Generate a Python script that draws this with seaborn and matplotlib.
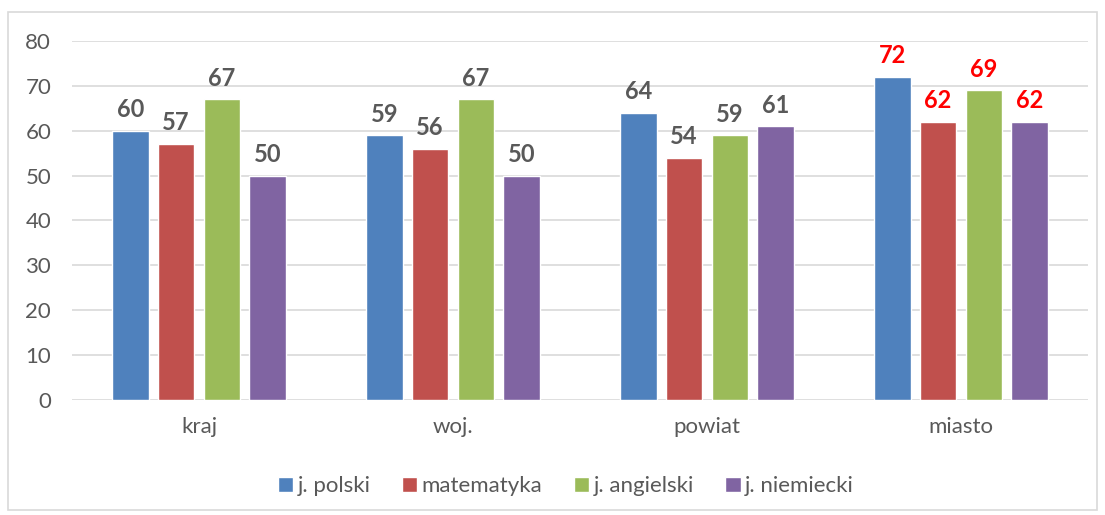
import pandas as pd
import matplotlib
matplotlib.use("Agg")
import matplotlib.pyplot as plt
import seaborn as sns
from matplotlib.patches import Rectangle

categories = ["kraj", "woj.", "powiat", "miasto"]
series = ["j. polski", "matematyka", "j. angielski", "j. niemiecki"]
j_polski = [60, 59, 64, 72]
matematyka = [57, 56, 54, 62]
j_angielski = [67, 67, 59, 69]
j_niemiecki = [50, 50, 61, 62]

colors = ["#4F81BD", "#C0504D", "#9BBB59", "#8064A2"]
grey = "#595959"

rows = []
for name, vals in zip(series, [j_polski, matematyka, j_angielski, j_niemiecki]):
    for cat, v in zip(categories, vals):
        rows.append({"kategoria": cat, "przedmiot": name, "wynik": v})
df = pd.DataFrame(rows)

sns.set_style("white")
plt.rcParams["font.family"] = ["Lato", "DejaVu Sans"]

fig = plt.figure(figsize=(11.05, 5.15), dpi=100)
ax = fig.add_axes([0.0652, 0.2233, 0.9194, 0.6971])

sns.barplot(data=df, x="kategoria", y="wynik", hue="przedmiot", palette=colors,
            width=0.72, gap=0.2, ax=ax, legend=True, saturation=1)

ax.set_ylim(0, 80)
ax.set_yticks(range(0, 81, 10))
ax.grid(axis="y", color="#D9D9D9", linewidth=1.2)
ax.set_axisbelow(True)
for s in ax.spines.values():
    s.set_visible(False)
ax.set_xlabel("")
ax.set_ylabel("")
ax.tick_params(axis="both", length=0, labelsize=16, colors=grey)
ax.tick_params(axis="y", pad=15)
ax.tick_params(axis="x", pad=12)

# etykiety danych
for ci, cont in enumerate(ax.containers):
    for bi, bar in enumerate(cont):
        col = "#FF0000" if categories[bi] == "miasto" else grey
        ax.annotate(f"{bar.get_height():.0f}",
                    (bar.get_x() + bar.get_width() / 2, bar.get_height()),
                    xytext=(0, 7), textcoords="offset points",
                    ha="center", va="bottom", fontsize=17, fontweight="bold", color=col)

leg = ax.legend(loc="center", bbox_to_anchor=(0.486, -0.24), ncol=4, frameon=False,
                fontsize=16, handlelength=0.7, handleheight=0.7, handletextpad=0.2,
                columnspacing=1.4)
for t in leg.get_texts():
    t.set_color(grey)

fig.patches.append(Rectangle((8 / 1105, 5 / 515), 1089 / 1105, 498 / 515,
                             transform=fig.transFigure, fill=False,
                             edgecolor="#D9D9D9", linewidth=1.2))

fig.savefig("out.png", dpi=100)
